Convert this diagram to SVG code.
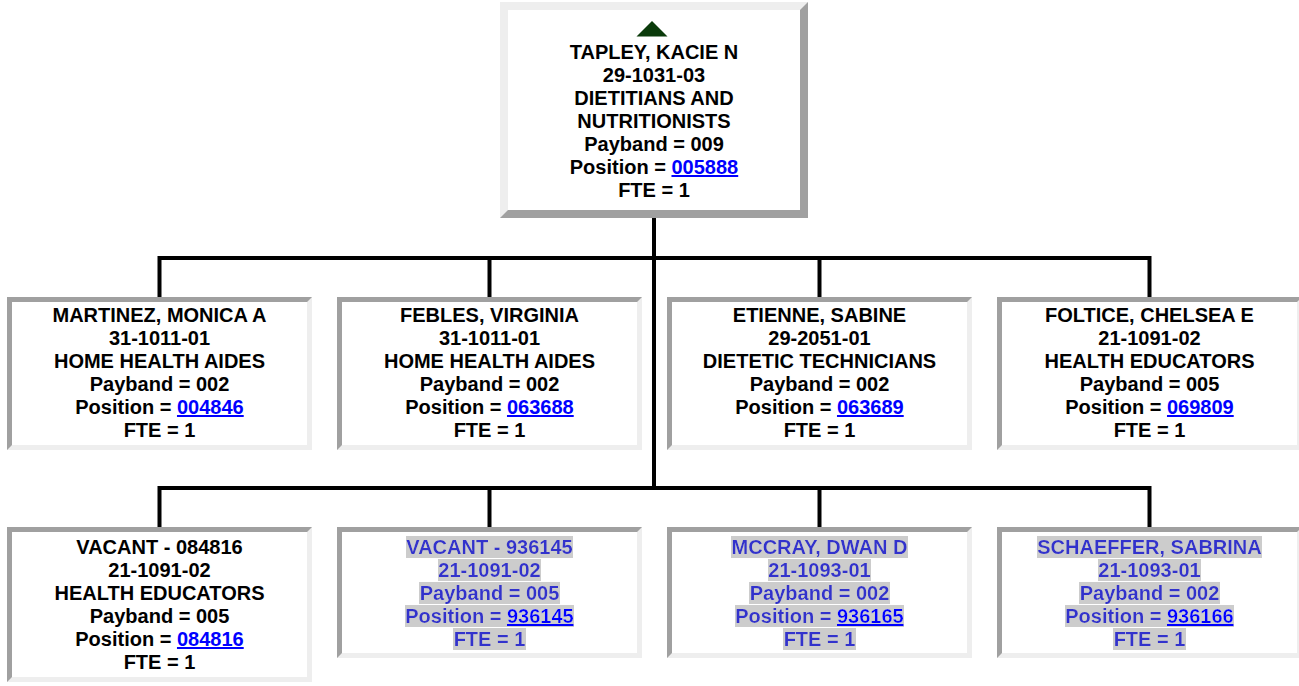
<svg xmlns="http://www.w3.org/2000/svg" width="1299" height="686" viewBox="0 0 1299 686">
<defs>
<style>
.lt{fill:#eeeeee}
.dk{fill:#a0a0a0}
.in{fill:#ffffff}
text{font-family:"Liberation Sans",Arial,Helvetica,sans-serif;font-weight:bold;font-size:20px;text-anchor:middle;fill:#000000}
.lnk{fill:#0000ff;text-decoration:underline}
.sel{fill:#3333cc}
.conn{fill:none;stroke:#000000;stroke-width:4;stroke-linejoin:miter;stroke-linecap:butt}
</style>
<filter id="hl" x="0" y="0" width="1" height="1">
<feFlood flood-color="#cccccc"/>
<feComposite in="SourceGraphic"/>
</filter>
</defs>
<rect x="0" y="0" width="1299" height="686" fill="#ffffff"/>

<g id="connectors">
<path class="conn" d="M654,218 V488"/>
<path class="conn" d="M159.5,297 V258 H1149.5 V297"/>
<path class="conn" d="M489.5,258 V297"/>
<path class="conn" d="M819.5,258 V297"/>
<path class="conn" d="M159.5,527 V488 H1149.5 V527"/>
<path class="conn" d="M489.5,488 V527"/>
<path class="conn" d="M819.5,488 V527"/>
</g>

<g id="node-tapley">
<rect class="dk" x="500" y="2" width="308" height="216"/>
<polygon class="lt" points="500,2 808,2 800,10 508,10 508,210 500,218"/>
<rect class="in" x="508" y="10" width="292" height="200"/>
<polygon points="652,21 636.5,36.5 667.5,36.5" fill="#0b3b0b"/>
<text x="654" y="59">TAPLEY, KACIE N</text>
<text x="654" y="82">29-1031-03</text>
<text x="654" y="105">DIETITIANS AND</text>
<text x="654" y="128">NUTRITIONISTS</text>
<text x="654" y="151">Payband = 009</text>
<text x="654" y="174">Position = <tspan class="lnk">005888</tspan></text>
<text x="654" y="197">FTE = 1</text>
</g>

<g id="node-martinez">
<rect class="lt" x="7" y="297" width="305" height="153"/>
<polygon class="dk" points="7,297 312,297 307,302 12,302 12,445 7,450"/>
<rect class="in" x="12" y="302" width="295" height="143"/>
<text x="159.5" y="322">MARTINEZ, MONICA A</text>
<text x="159.5" y="345">31-1011-01</text>
<text x="159.5" y="368">HOME HEALTH AIDES</text>
<text x="159.5" y="391">Payband = 002</text>
<text x="159.5" y="414">Position = <tspan class="lnk">004846</tspan></text>
<text x="159.5" y="437">FTE = 1</text>
</g>

<g id="node-febles">
<rect class="lt" x="337" y="297" width="305" height="153"/>
<polygon class="dk" points="337,297 642,297 637,302 342,302 342,445 337,450"/>
<rect class="in" x="342" y="302" width="295" height="143"/>
<text x="489.5" y="322">FEBLES, VIRGINIA</text>
<text x="489.5" y="345">31-1011-01</text>
<text x="489.5" y="368">HOME HEALTH AIDES</text>
<text x="489.5" y="391">Payband = 002</text>
<text x="489.5" y="414">Position = <tspan class="lnk">063688</tspan></text>
<text x="489.5" y="437">FTE = 1</text>
</g>

<g id="node-etienne">
<rect class="lt" x="667" y="297" width="305" height="153"/>
<polygon class="dk" points="667,297 972,297 967,302 672,302 672,445 667,450"/>
<rect class="in" x="672" y="302" width="295" height="143"/>
<text x="819.5" y="322">ETIENNE, SABINE</text>
<text x="819.5" y="345">29-2051-01</text>
<text x="819.5" y="368">DIETETIC TECHNICIANS</text>
<text x="819.5" y="391">Payband = 002</text>
<text x="819.5" y="414">Position = <tspan class="lnk">063689</tspan></text>
<text x="819.5" y="437">FTE = 1</text>
</g>

<g id="node-foltice">
<rect class="lt" x="997" y="297" width="305" height="153"/>
<polygon class="dk" points="997,297 1302,297 1297,302 1002,302 1002,445 997,450"/>
<rect class="in" x="1002" y="302" width="295" height="143"/>
<text x="1149.5" y="322">FOLTICE, CHELSEA E</text>
<text x="1149.5" y="345">21-1091-02</text>
<text x="1149.5" y="368">HEALTH EDUCATORS</text>
<text x="1149.5" y="391">Payband = 005</text>
<text x="1149.5" y="414">Position = <tspan class="lnk">069809</tspan></text>
<text x="1149.5" y="437">FTE = 1</text>
</g>

<g id="node-vacant-084816">
<rect class="lt" x="7" y="527" width="305" height="155"/>
<polygon class="dk" points="7,527 312,527 307,532 12,532 12,677 7,682"/>
<rect class="in" x="12" y="532" width="295" height="145"/>
<text x="159.5" y="554">VACANT - 084816</text>
<text x="159.5" y="577">21-1091-02</text>
<text x="159.5" y="600">HEALTH EDUCATORS</text>
<text x="159.5" y="623">Payband = 005</text>
<text x="159.5" y="646">Position = <tspan class="lnk">084816</tspan></text>
<text x="159.5" y="669">FTE = 1</text>
</g>

<g id="node-vacant-936145">
<rect class="lt" x="337" y="527" width="305" height="131"/>
<polygon class="dk" points="337,527 642,527 637,532 342,532 342,653 337,658"/>
<rect class="in" x="342" y="532" width="295" height="121"/>
<text class="sel" filter="url(#hl)" x="489.5" y="554">VACANT - 936145</text>
<text class="sel" filter="url(#hl)" x="489.5" y="577">21-1091-02</text>
<text class="sel" filter="url(#hl)" x="489.5" y="600">Payband = 005</text>
<text class="sel" filter="url(#hl)" x="489.5" y="623">Position = <tspan class="lnk">936145</tspan></text>
<text class="sel" filter="url(#hl)" x="489.5" y="646">FTE = 1</text>
</g>

<g id="node-mccray">
<rect class="lt" x="667" y="527" width="305" height="131"/>
<polygon class="dk" points="667,527 972,527 967,532 672,532 672,653 667,658"/>
<rect class="in" x="672" y="532" width="295" height="121"/>
<text class="sel" filter="url(#hl)" x="819.5" y="554">MCCRAY, DWAN D</text>
<text class="sel" filter="url(#hl)" x="819.5" y="577">21-1093-01</text>
<text class="sel" filter="url(#hl)" x="819.5" y="600">Payband = 002</text>
<text class="sel" filter="url(#hl)" x="819.5" y="623">Position = <tspan class="lnk">936165</tspan></text>
<text class="sel" filter="url(#hl)" x="819.5" y="646">FTE = 1</text>
</g>

<g id="node-schaeffer">
<rect class="lt" x="997" y="527" width="305" height="131"/>
<polygon class="dk" points="997,527 1302,527 1297,532 1002,532 1002,653 997,658"/>
<rect class="in" x="1002" y="532" width="295" height="121"/>
<text class="sel" filter="url(#hl)" x="1149.5" y="554">SCHAEFFER, SABRINA</text>
<text class="sel" filter="url(#hl)" x="1149.5" y="577">21-1093-01</text>
<text class="sel" filter="url(#hl)" x="1149.5" y="600">Payband = 002</text>
<text class="sel" filter="url(#hl)" x="1149.5" y="623">Position = <tspan class="lnk">936166</tspan></text>
<text class="sel" filter="url(#hl)" x="1149.5" y="646">FTE = 1</text>
</g>
</svg>
